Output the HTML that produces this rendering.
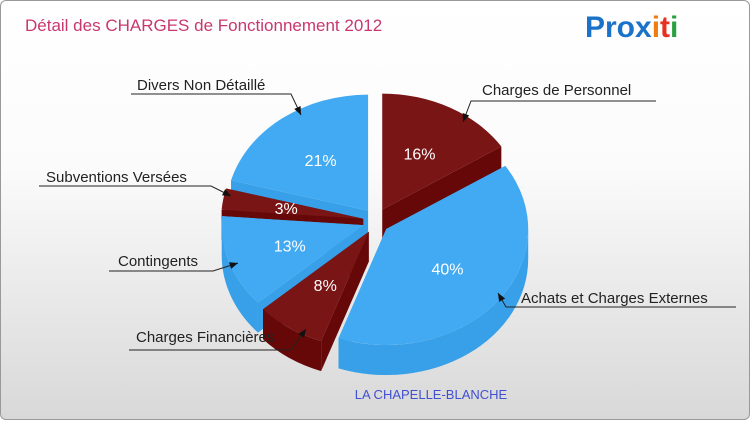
<!DOCTYPE html>
<html><head><meta charset="utf-8"><style>
html,body{margin:0;padding:0;}
body{width:750px;height:420px;overflow:hidden;font-family:"Liberation Sans",sans-serif;}
#wrap{position:absolute;left:0;top:0;width:748px;height:418px;border:1px solid #999;border-radius:6px;background:linear-gradient(#fff 0%,#fbfbfb 40%,#d8d8d8 100%);}
</style></head><body>
<div id="wrap">
<svg id="chart" width="750" height="420" style="position:absolute;left:0;top:0">
<text x="24" y="30" font-size="17" fill="#c8386e">Détail des CHARGES de Fonctionnement 2012</text>
<g font-size="30" font-weight="bold" font-family="Liberation Sans, sans-serif">
<text x="584" y="36"><tspan fill="#1a73c8">Pro</tspan><tspan fill="#1a73c8">x</tspan><tspan fill="#f07c10">i</tspan><tspan fill="#e83020">t</tspan><tspan fill="#2aa040">i</tspan></text>
</g>
<text x="430" y="398" font-size="13" fill="#4050d0" text-anchor="middle">LA CHAPELLE-BLANCHE</text>
<g id="pie"></g>
<g id="labels"></g>
</svg>
</div>
<script>
const categories=["Charges de Personnel","Achats et Charges Externes","Charges Financières","Contingents","Subventions Versées","Divers Non Détaillé"];
const values=[16,40,8,13,3,21];
const colorsTop=["#7a1515","#42aaf2","#7a1515","#42aaf2","#7a1515","#42aaf2"];
const colorsSide=["#660808","#37a0e8","#660808","#37a0e8","#660808","#37a0e8"];
const cx=375,cy=220,rx=142,ry=116,depth=30,explode=13,rot=0;
const ns="http://www.w3.org/2000/svg";
const pie=document.getElementById('pie');
const total=values.reduce((a,b)=>a+b,0);
function pt(ox,oy,a,k){return [ox+rx*k*Math.sin(a),oy-ry*k*Math.cos(a)];}
let start=rot;const slices=[];
values.forEach((v,i)=>{const sweep=v/total*2*Math.PI;const mid=start+sweep/2;
const ox=cx+explode*Math.sin(mid),oy=cy-explode*Math.cos(mid);
slices.push({i,a0:start,a1:start+sweep,mid,ox,oy});start+=sweep;});
function arcD(ox,oy,a0,a1){const p0=pt(ox,oy,a0,1),p1=pt(ox,oy,a1,1);const large=(a1-a0)>Math.PI?1:0;
return [p0,p1,large];}
const order=slices.slice().sort((a,b)=>(-Math.cos(a.mid))-(-Math.cos(b.mid)));
order.forEach(s=>{
 const c=colorsSide[s.i];
 [s.a0,s.a1].forEach(a=>{const p=pt(s.ox,s.oy,a,1);const w=document.createElementNS(ns,'path');
 w.setAttribute('d',`M${s.ox},${s.oy} L${p[0]},${p[1]} L${p[0]},${p[1]+depth} L${s.ox},${s.oy+depth} Z`);
 w.setAttribute('fill',c);
 
 
 pie.appendChild(w);});
 const b0=Math.max(s.a0,Math.PI/2),b1=Math.min(s.a1,3*Math.PI/2);
 if(b1>b0){
  const [p0,p1,large]=arcD(s.ox,s.oy,b0,b1);
  const o=document.createElementNS(ns,'path');
  o.setAttribute('d',`M${p0[0]},${p0[1]} A${rx},${ry} 0 ${large} 1 ${p1[0]},${p1[1]} L${p1[0]},${p1[1]+depth} A${rx},${ry} 0 ${large} 0 ${p0[0]},${p0[1]+depth} Z`);
  o.setAttribute('fill',c);
  
  
  pie.appendChild(o);
 }
 const [p0,p1,large]=arcD(s.ox,s.oy,s.a0,s.a1);
 const t=document.createElementNS(ns,'path');
 t.setAttribute('d',`M${s.ox},${s.oy} L${p0[0]},${p0[1]} A${rx},${ry} 0 ${large} 1 ${p1[0]},${p1[1]} Z`);
 t.setAttribute('fill',colorsTop[s.i]);
 
 
 pie.appendChild(t);
});
slices.forEach(s=>{
 const lp=pt(s.ox,s.oy,s.mid,0.55);
 const tx=document.createElementNS(ns,'text');
 tx.setAttribute('x',lp[0]);tx.setAttribute('y',lp[1]+6);tx.setAttribute('text-anchor','middle');
 tx.setAttribute('font-size','16');tx.setAttribute('fill','#fff');tx.textContent=values[s.i]+'%';
 
 
 pie.appendChild(tx);
});
const labelPos=[[481,94,470,655,100,"l"],[520,302,505,735,306,"l"],[135,341,128,290,349,"r"],[117,265,108,212,270,"r"],[45,181,38,210,185,"r"],[136,89,130,290,93,"r"]];
const targets=[[462,121],[497,292],[305,328],[237,262],[230,195],[300,114]];
const L=document.getElementById('labels');
labelPos.forEach((p,i)=>{
 const t=document.createElementNS(ns,'text');t.setAttribute('x',p[0]);t.setAttribute('y',p[1]);
 t.setAttribute('font-size','15');t.setAttribute('fill','#222');t.textContent=categories[i];
 
 
 L.appendChild(t);
 const elbow=p[5]=="l"?[p[2],p[4]]:[p[3],p[4]];
 const tg=targets[i];
 const pl=document.createElementNS(ns,'polyline');
 pl.setAttribute('points',`${p[5]=="l"?p[3]:p[2]},${p[4]} ${elbow[0]},${elbow[1]} ${tg[0]},${tg[1]}`);
 pl.setAttribute('fill','none');pl.setAttribute('stroke','#222');pl.setAttribute('stroke-width','1');
 
 
 L.appendChild(pl);
 const ang=Math.atan2(tg[1]-elbow[1],tg[0]-elbow[0]);
 const a1=[tg[0]-9*Math.cos(ang-0.4),tg[1]-9*Math.sin(ang-0.4)],a2=[tg[0]-9*Math.cos(ang+0.4),tg[1]-9*Math.sin(ang+0.4)];
 const ar=document.createElementNS(ns,'polygon');
 ar.setAttribute('points',`${tg[0]},${tg[1]} ${a1[0]},${a1[1]} ${a2[0]},${a2[1]}`);ar.setAttribute('fill','#111');
 
 
 L.appendChild(ar);
});
</script>
</body></html>
